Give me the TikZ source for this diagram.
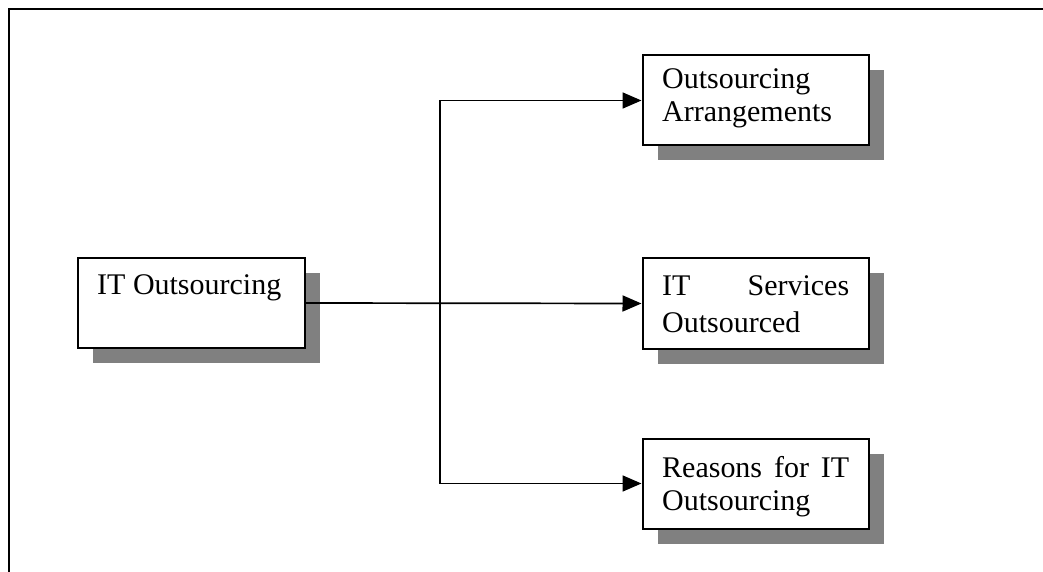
\documentclass[tikz,border=0pt]{standalone}
\usepackage{fontspec}
\setmainfont{Liberation Serif}
\usetikzlibrary{arrows.meta,shadows}
\begin{document}
\begin{tikzpicture}[x=1bp,y=-1bp,
  box/.style={draw=black,line width=2bp,fill=white,minimum width=226bp,minimum height=90bp,inner sep=0pt,
    drop shadow={shadow xshift=15bp,shadow yshift=-15bp,fill=black!50,opacity=1}},
  txt/.style={anchor=base west,inner sep=0pt,font=\fontsize{30.1}{34.6}\selectfont},
  conn/.style={line width=1.7bp,-{Triangle[length=19bp,width=16bp]}},
  frame/.style={line width=2.6bp}]
\useasboundingbox (0,0) rectangle (1043,572);
% frame
\coordinate (ftl) at (9,9);
\coordinate (ftr) at (1043,9);
\coordinate (fbl) at (9,572);
\draw[frame] (fbl) -- (ftl) -- (ftr);
% boxes
\node[box] (main) at (191.5,303) {};
\node[box] (b1) at (755.5,100.5) {};
\node[box] (b2) at (755.5,303.5) {};
\node[box] (b3) at (755.5,483.5) {};
% texts
\node[txt] (tmain) at (97,295) {IT Outsourcing};
\node[txt] (t1a) at (662,89) {Outsourcing};
\node[txt] (t1b) at (662,122) {Arrangements};
\node[txt] (t2a) at (662,296) {\makebox[187bp][s]{IT\hfill Services}};
\node[txt] (t2b) at (662,332) {Outsourced};
\node[txt] (t3a) at (662,477) {\makebox[187bp][s]{Reasons\hfill for\hfill IT}};
\node[txt] (t3b) at (662,510) {Outsourcing};
% connectors
\coordinate (j) at (440,303);
\draw[conn] (main.east) -- (b2.west);
\draw[conn] (j) |- (b1.west);
\draw[conn] (j) |- (b3.west);
\end{tikzpicture}
\end{document}
